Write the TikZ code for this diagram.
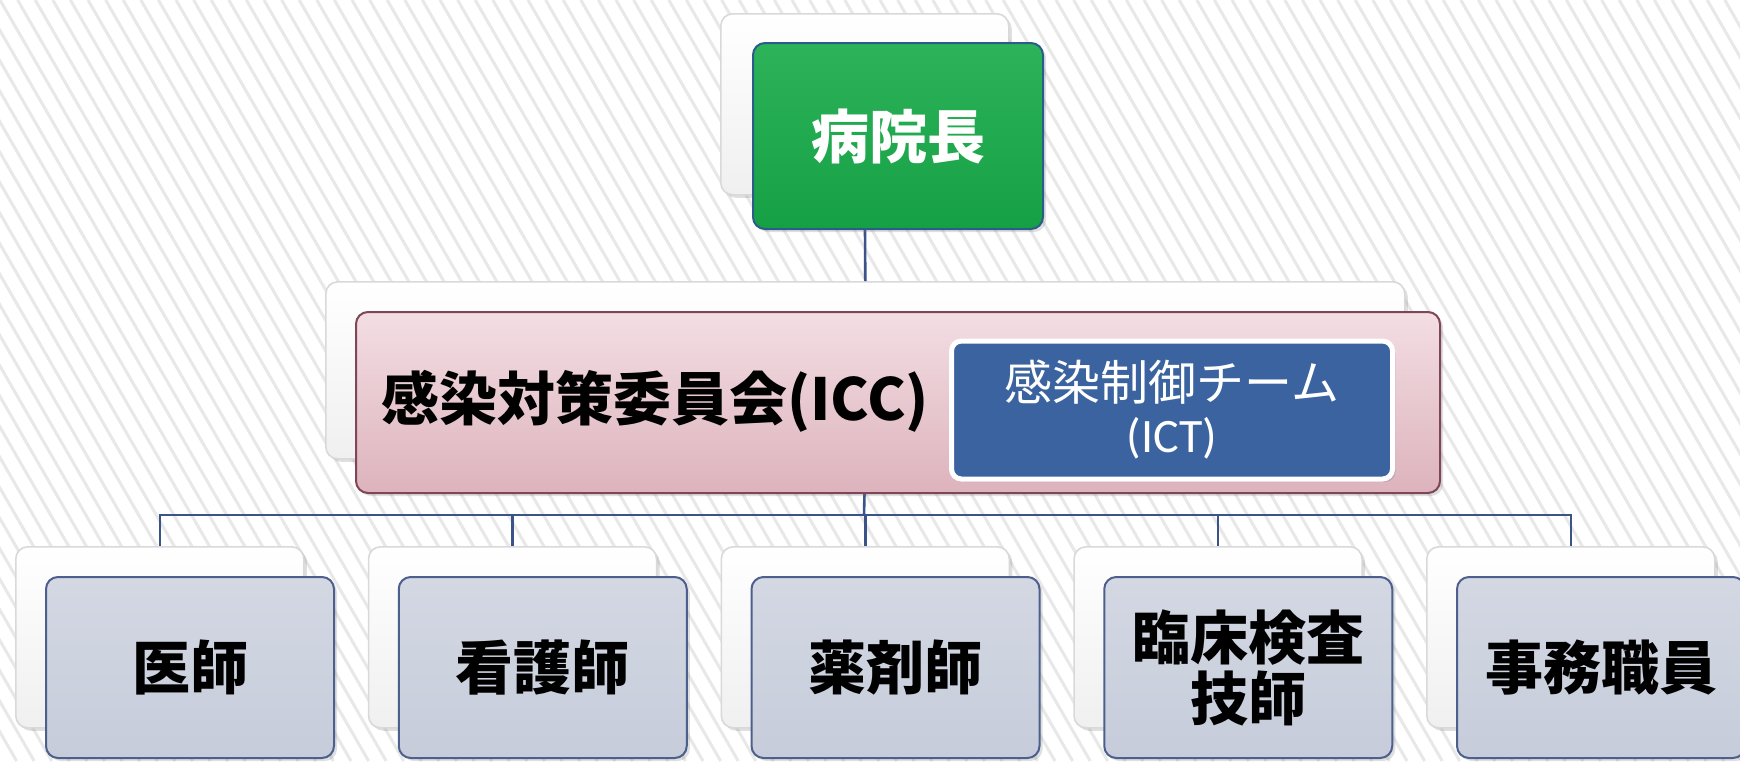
\documentclass[tikz,border=0pt]{standalone}
\usepackage{fontspec}
\newfontfamily\jp{Noto Sans CJK JP}
\newfontfamily\calib{Carlito}
\usetikzlibrary{shadows}
\definecolor{conn}{HTML}{3A5388}
\definecolor{stripec}{HTML}{E8E8E8}
\definecolor{greenT}{HTML}{2DB35A}
\definecolor{greenB}{HTML}{16A046}
\definecolor{greenD}{HTML}{2B5C8A}
\definecolor{pinkT}{HTML}{F3DEE3}
\definecolor{pinkB}{HTML}{DDB3BD}
\definecolor{pinkD}{HTML}{7E4656}
\definecolor{grayT}{HTML}{D3D8E3}
\definecolor{grayB}{HTML}{C6CCDA}
\definecolor{grayD}{HTML}{4D5F8C}
\definecolor{ictF}{HTML}{3A63A0}
\begin{document}
\begin{tikzpicture}[x=0.5pt,y=-0.5pt,
  shade/.style={drop shadow={opacity=0.25,shadow xshift=1.5pt,shadow yshift=-1.5pt}},
  backbox/.style={draw=gray!30,line width=0.8pt,top color=white,bottom color=gray!12,
    rounded corners=6pt,inner sep=0pt,anchor=north west,shade},
  frontbox/.style={line width=1pt,rounded corners=6pt,inner sep=0pt,anchor=north west,shade},
  smallbox/.style={minimum width=144pt,minimum height=90.5pt},
  greenbox/.style={frontbox,draw=greenD,top color=greenT,bottom color=greenB,
    text=white,font=\jp\bfseries\fontsize{29}{31}\selectfont},
  pinkbox/.style={frontbox,draw=pinkD,top color=pinkT,bottom color=pinkB},
  graybox/.style={frontbox,draw=grayD,top color=grayT,bottom color=grayB,
    text=black,align=center,font=\jp\bfseries\fontsize{29}{30.5}\selectfont},
  conline/.style={draw=conn,line width=1.3pt},
  stripe/.style={draw=stripec,line width=1.5pt}
]
\useasboundingbox (0,0) rectangle (1740,761);
\begin{scope}
  \clip (0,0) rectangle (1740,761);
  \fill[white] (0,0) rectangle (1740,761);
  \foreach \k in {-28,...,100} \draw[stripe] (\k*17.6,0) -- ++(439,761);
\end{scope}

% back boxes
\node[backbox,smallbox] (topB) at (720,13) {};
\node[backbox,minimum width=539.5pt,minimum height=88.5pt] (iccB) at (325,281) {};
\foreach \i in {0,...,4} {
  \pgfmathsetmacro\cx{159+352.75*\i}
  \node[backbox,smallbox] (bB\i) at (\cx-144,546) {};
}

% connectors
\coordinate (bar) at (864,515);
\draw[conline] (topB.south) -- (iccB.north);
\draw[conline] (iccB.south) -- (bar);
\foreach \i in {0,...,4} \draw[conline] (bar) -| (bB\i.north);

% front boxes
\node[greenbox,minimum width=145pt,minimum height=93pt] (topF) at (752,42) {病院長};
\node[pinkbox,minimum width=542pt,minimum height=90.5pt] (iccF) at (355,311) {};
\node[anchor=west,inner sep=0pt,font=\jp\bfseries\fontsize{29}{31}\selectfont] (iccT) at (381,401) {感染対策委員会(ICC)};
\node[fill=ictF,draw=white,line width=2.5pt,rounded corners=5pt,minimum width=220.5pt,
  minimum height=69pt,align=center,text=white,shade,inner sep=0pt,
  font=\fontsize{24}{26}\selectfont] (ict) at (1172,410)
  {{\jp 感染制御チーム}\\{\calib (ICT)}};
\foreach \i/\t in {0/医師,1/看護師,2/薬剤師,3/{臨床検査\\技師},4/事務職員} {
  \pgfmathsetmacro\cx{159+352.75*\i}
  \node[graybox,smallbox] (bF\i) at (\cx-114,576) {\t};
}
\end{tikzpicture}
\end{document}
